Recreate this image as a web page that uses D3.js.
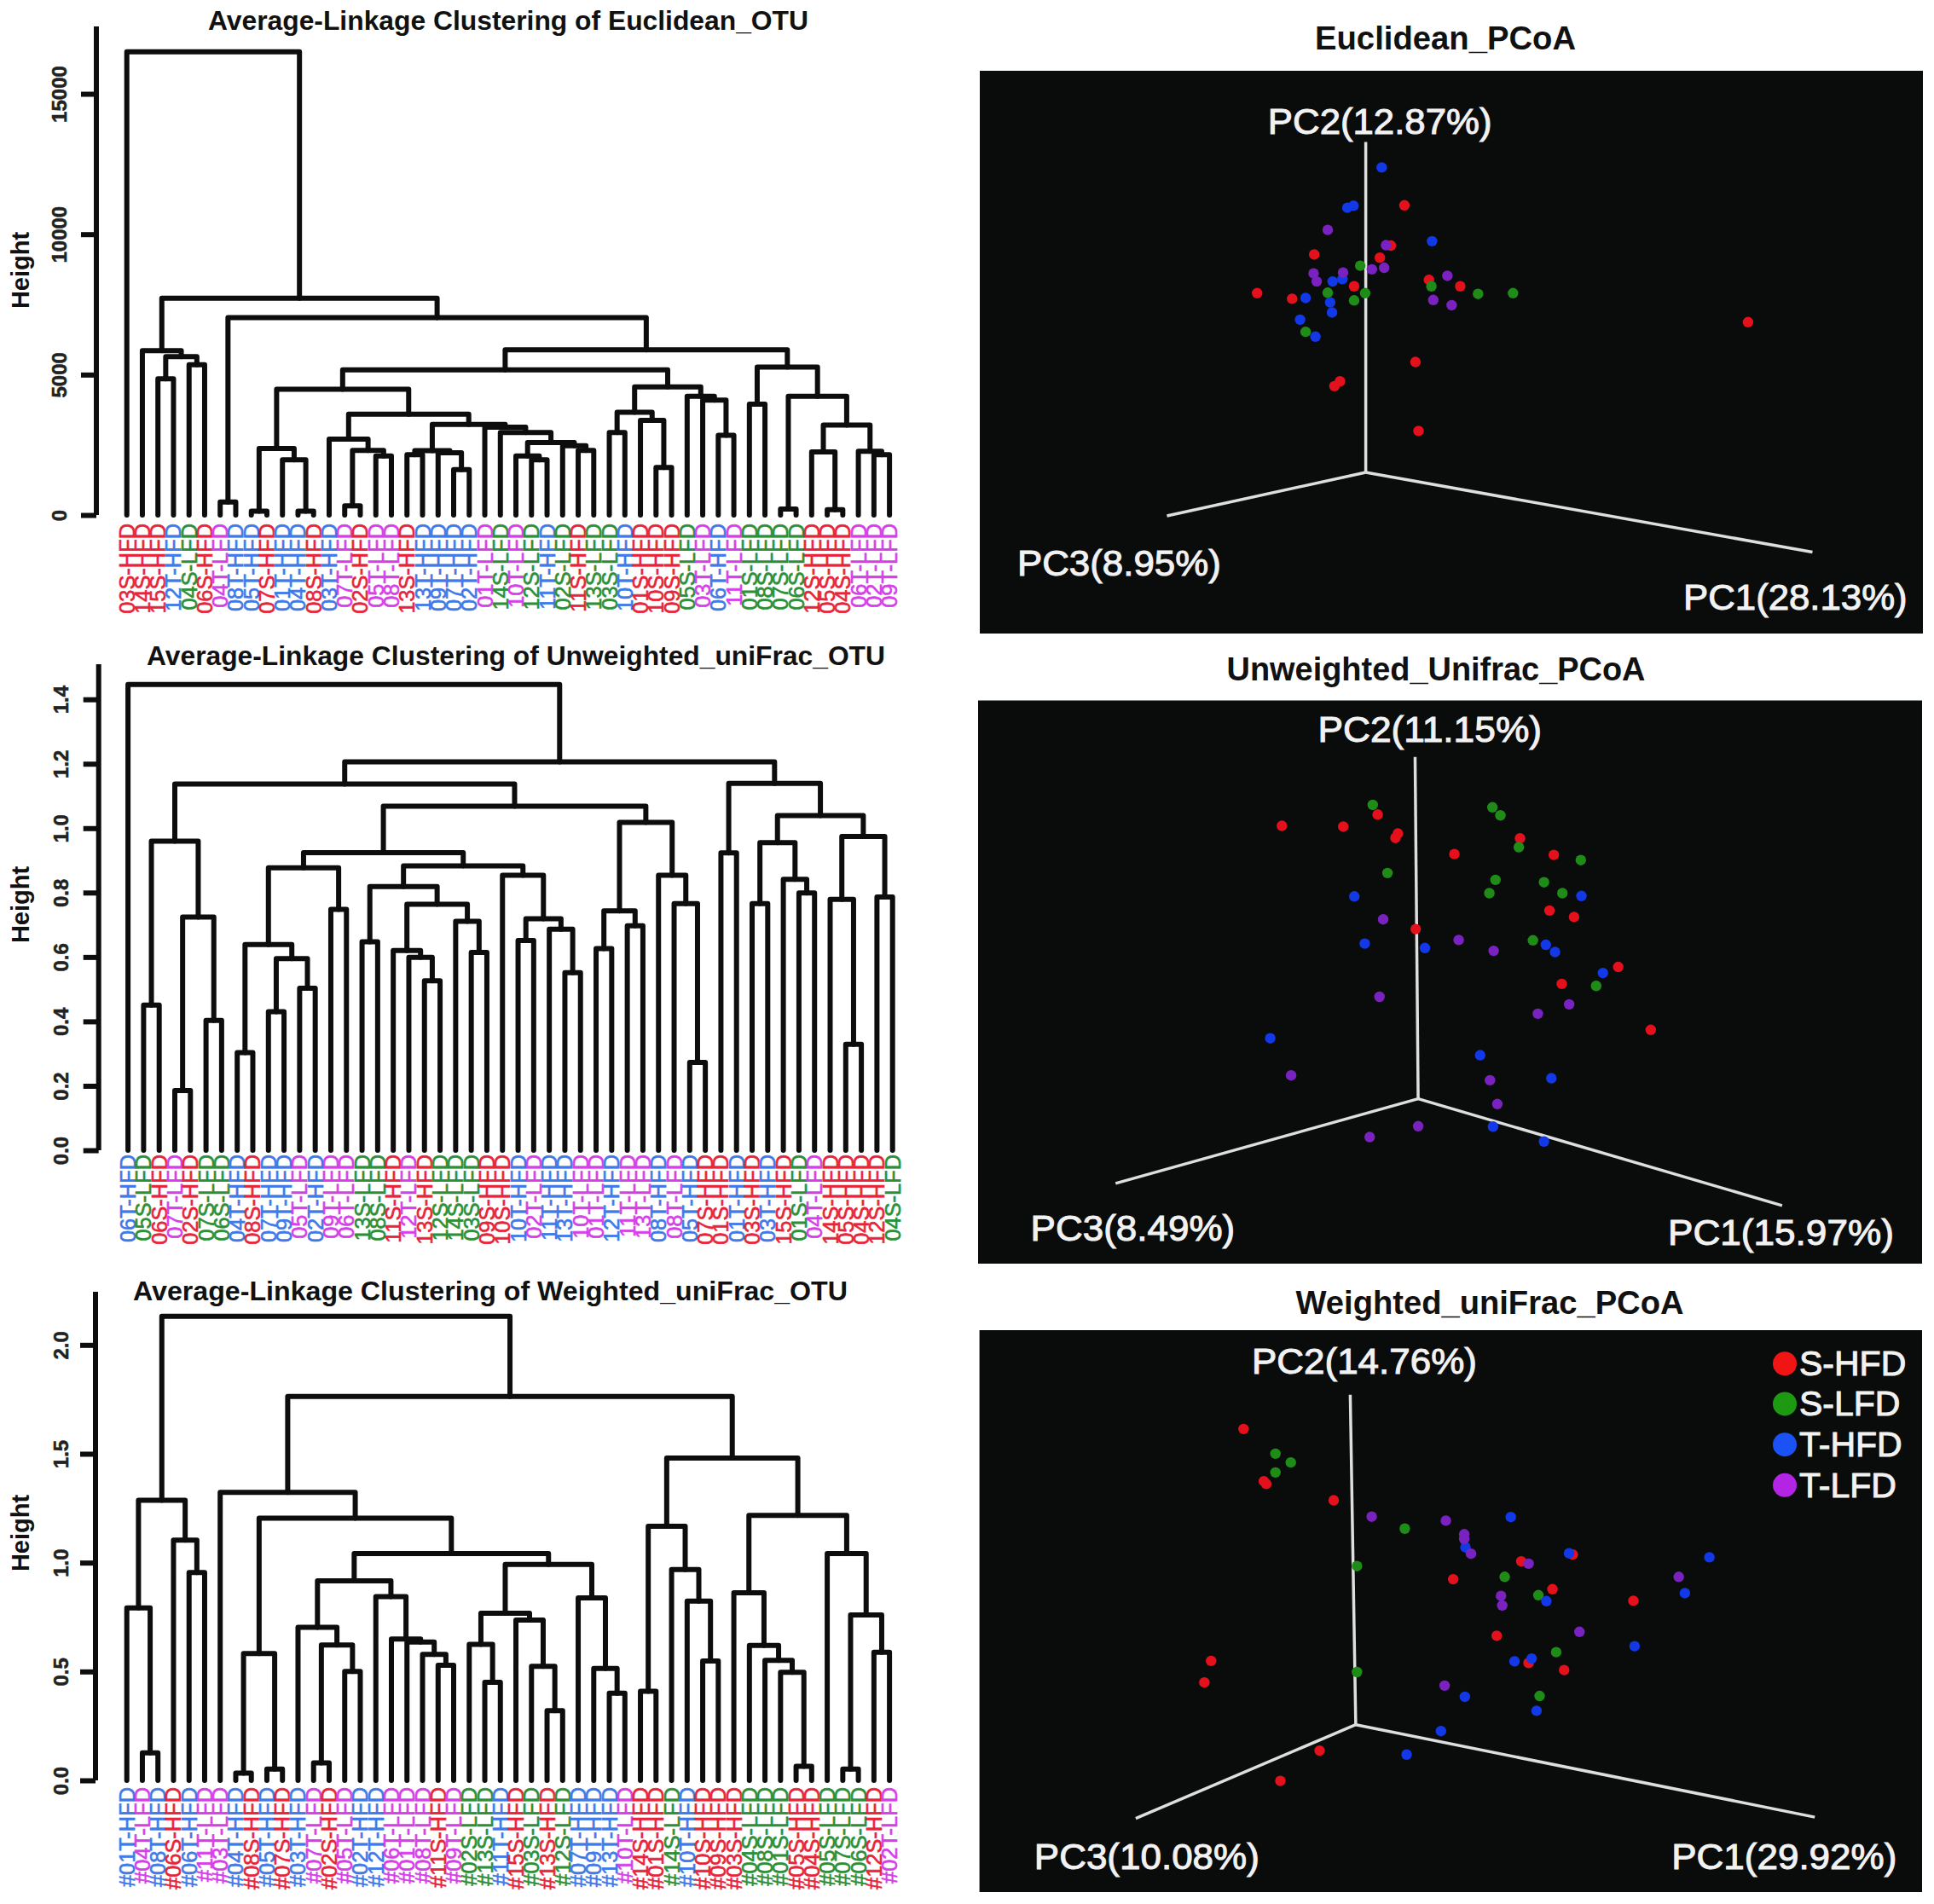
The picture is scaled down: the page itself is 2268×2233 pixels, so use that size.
<!DOCTYPE html>
<html>
<head>
  <meta charset="utf-8">
  <script src="https://d3js.org/d3.v7.min.js"></script>
  <style>
    html, body { margin: 0; padding: 0; background: #fff; }
    svg { display: block; }
    text { font-family: "Liberation Sans", Arial, sans-serif; }
  </style>
</head>
<body>
  <svg id="chart" width="2268" height="2233"></svg>
  <script>
    // sample order along the bottom of each dendrogram
    const euclideanLabels = ('03S-HFD 14S-HFD 15S-HFD 12T-HFD 04S-LFD 06S-HFD 04T-LFD 08T-HFD 05T-HFD 07S-HFD ' +
      '01T-HFD 04T-HFD 08S-HFD 03T-HFD 07T-LFD 02S-HFD 05T-LFD 08T-LFD 13S-HFD 13T-HFD ' +
      '09T-HFD 07T-HFD 02T-HFD 01T-LFD 14S-LFD 10T-LFD 12S-LFD 11T-HFD 02S-LFD 11S-HFD ' +
      '13S-LFD 03S-LFD 10T-HFD 01S-HFD 10S-HFD 09S-HFD 05S-LFD 03T-LFD 06T-HFD 11T-LFD ' +
      '01S-LFD 08S-LFD 07S-LFD 06S-LFD 12S-HFD 05S-HFD 04S-HFD 06T-LFD 02T-LFD 09T-LFD').split(' ')
    const unweightedLabels = ('06T-HFD 05S-LFD 06S-HFD 07T-LFD 02S-HFD 07S-LFD 06S-LFD 04T-HFD 08S-HFD 07T-HFD ' +
      '09T-HFD 05T-LFD 02T-HFD 09T-LFD 06T-LFD 13S-LFD 08S-LFD 11S-HFD 12T-LFD 13S-HFD ' +
      '12S-LFD 14S-LFD 03S-LFD 09S-HFD 10S-HFD 10T-HFD 02T-LFD 11T-HFD 13T-HFD 10T-LFD ' +
      '01T-LFD 12T-HFD 11T-LFD 13T-LFD 08T-HFD 08T-LFD 05T-HFD 07S-HFD 01S-HFD 01T-HFD ' +
      '03S-HFD 03T-HFD 15S-HFD 01S-LFD 04T-LFD 14S-HFD 05S-HFD 04S-HFD 12S-HFD 04S-LFD').split(' ')
    const weightedLabels = ('#01T-HFD #04T-LFD #08T-HFD #06S-HFD #06T-HFD #11T-LFD #03T-LFD #04T-HFD #08S-HFD #05T-HFD ' +
      '#07S-HFD #03T-HFD #07T-LFD #02S-HFD #05T-LFD #02T-HFD #12T-HFD #06T-LFD #01T-LFD #08T-LFD ' +
      '#11S-HFD #09T-LFD #02S-LFD #13S-LFD #11T-HFD #15S-HFD #03S-LFD #13S-HFD #12S-LFD #07T-HFD ' +
      '#09T-HFD #13T-HFD #10T-LFD #14S-HFD #01S-HFD #14S-LFD #10T-HFD #10S-HFD #09S-HFD #03S-HFD ' +
      '#04S-LFD #08S-LFD #01S-LFD #05S-HFD #04S-HFD #05S-LFD #07S-LFD #06S-LFD #12S-HFD #02T-LFD').split(' ')

    // trees: [merge height, left, right], a 0 is a leaf (taken in label order)
    const euclideanTree = [16500, 0, [7720, [5850, 0, [5640, [4850, 0, 0], [5350, 0, 0]]],
      [7030, [460, 0, 0], [5880,
        [5170,
          [4480,
            [2370, [140, 0, 0], [1970, 0, [140, 0, 0]]],
            [3590,
              [2700, 0, [2300, [330, 0, 0], [2100, 0, 0]]],
              [3230,
                [2290, [2150, 0, 0], [2220, 0, [1620, 0, 0]]],
                [3130, 0, [2940, 0, [2580, [2100, 0, [1970, 0, 0]], [2470, 0, [2300, 0, 0]]]]]]]],
          [4560, [3660, [2940, 0, 0], [3370, 0, [1690, 0, 0]]], [4230, 0, [4090, 0, [2840, 0, 0]]]]],
        [5270, [3950, 0, 0], [4230, [215, 0, 0], [3200, [2250, 0, [190, 0, 0]], [2270, 0, [2150, 0, 0]]]]]]]]]
    const unweightedTree = [1.446, 0, [1.206,
      [1.137,
        [0.960, [0.451, 0, 0], [0.724, [0.185, 0, 0], [0.403, 0, 0]]],
        [1.068,
          [0.924,
            [0.877, [0.639, [0.303, 0, 0], [0.595, [0.430, 0, 0], [0.503, 0, 0]]], [0.748, 0, 0]],
            [0.883,
              [0.819, [0.647, 0, 0], [0.764, [0.620, 0, [0.599, 0, [0.526, 0, 0]]], [0.711, 0, [0.614, 0, 0]]]],
              [0.854, 0, [0.719, [0.651, 0, 0], [0.686, 0, [0.551, 0, 0]]]]]],
          [1.018, [0.743, [0.626, 0, 0], [0.697, 0, 0]], [0.854, 0, [0.766, 0, [0.273, 0, 0]]]]]],
      [1.139, [0.923, 0, 0], [1.039,
        [0.955, [0.766, 0, 0], [0.841, 0, [0.799, 0, 0]]],
        [0.974, [0.779, 0, [0.329, 0, 0]], [0.786, 0, 0]]]]]]
    const weightedTree = [2.131,
      [1.286, [0.792, 0, [0.126, 0, 0]], [1.103, 0, [0.955, 0, 0]]],
      [1.763,
        [1.323, 0, [1.204,
          [0.583, [0.033, 0, 0], [0.052, 0, 0]],
          [1.042,
            [0.916,
              [0.703, 0, [0.622, [0.080, 0, 0], [0.500, 0, 0]]],
              [0.844, 0, [0.649, 0, [0.635, 0, [0.579, 0, [0.529, 0, 0]]]]]],
            [0.992,
              [0.768, [0.625, 0, [0.450, 0, 0]], [0.736, 0, [0.524, 0, [0.320, 0, 0]]]],
              [0.838, 0, [0.514, 0, [0.400, 0, 0]]]]]]],
        [1.480,
          [1.167, [0.409, 0, 0], [0.968, 0, [0.823, 0, [0.548, 0, 0]]]],
          [1.217,
            [0.862, 0, [0.620, 0, [0.551, 0, [0.496, 0, [0.065, 0, 0]]]]],
            [1.042, 0, [0.760, [0.052, 0, 0], [0.588, 0, 0]]]]]]]

    const euclideanTicks = [0, 5000, 10000, 15000]
    const unweightedTicks = [0, 0.2, 0.4, 0.6, 0.8, 1.0, 1.2, 1.4]
    const weightedTicks = [0, 0.5, 1.0, 1.5, 2.0]

    // PCoA points as projected on screen [x, y], one list per group
    const euclideanPoints = {
      'S-HFD': [[705,467],[683,567],[665,597],[558,589],[623,668],[465,685],[522,699],[745,652],[796,668],[1265,757],[723,856],[600,904],[591,916],[728,1027]],
      'S-LFD': [[633,617],[580,684],[641,685],[623,703],[749,668],[825,687],[882,685],[544,781]],
      'T-HFD': [[668,373],[612,473],[622,468],[750,556],[588,656],[604,650],[544,697],[584,708],[587,733],[535,751],[560,793]],
      'T-LFD': [[580,528],[675,566],[652,626],[672,622],[557,636],[605,634],[562,656],[775,642],[752,702],[782,715]]
    }
    const unweightedPoints = {
      'S-HFD': [[505,441],[605,443],[661,413],[694,460],[690,471],[786,511],[893,472],[948,513],[941,651],[981,667],[723,697],[1053,791],[961,833],[1106,947]],
      'S-LFD': [[653,389],[848,395],[861,415],[891,494],[992,526],[677,558],[853,575],[932,581],[843,608],[962,608],[914,725],[1017,838]],
      'T-HFD': [[623,616],[993,615],[640,733],[738,744],[935,736],[950,754],[1028,806],[486,968],[828,1010],[944,1067],[849,1187],[932,1224]],
      'T-LFD': [[670,673],[793,724],[850,751],[664,865],[973,884],[922,907],[520,1060],[844,1072],[856,1131],[727,1186],[648,1213]]
    }
    const weightedPoints = {
      'S-HFD': [[443,376],[476,507],[480,514],[590,555],[980,691],[896,708],[785,753],[947,778],[1079,807],[856,895],[908,963],[966,981],[390,958],[379,1012],[567,1183],[503,1259]],
      'S-LFD': [[495,438],[520,460],[495,485],[706,626],[628,720],[869,747],[924,793],[953,936],[628,986],[926,1046]],
      'T-HFD': [[879,597],[805,673],[974,688],[1203,698],[937,808],[1163,788],[1081,921],[913,952],[885,959],[804,1048],[921,1083],[765,1134],[709,1193]],
      'T-LFD': [[652,596],[773,606],[803,640],[803,652],[814,689],[908,714],[1153,747],[863,795],[865,819],[991,885],[771,1020]]
    }
    const groups = ['S-HFD', 'S-LFD', 'T-HFD', 'T-LFD']
    const labelColors = ['#e8243a', '#2c9038', '#3f7ae8', '#d63fe8']
    const pointColors = {
      'S-HFD': '#e4101c', 'S-LFD': '#1f8c18', 'T-HFD': '#1238e8', 'T-LFD': '#7a22c0'
    }
    const legendColors = ['#f01414', '#1d9a12', '#1a52f5', '#b424e4']

    var svg = d3.select('#chart')
    var labelColor = d3.scaleOrdinal().domain(groups).range(labelColors)

    function groupOf(label) {
      var m = label.match(/(S|T)-(HFD|LFD)/)
      return m[0]
    }

    function drawDendrogram(o) {
      var g = svg.append('g')
      var y = d3.scaleLinear().domain([0, o.top]).range([o.y0, o.yTop])
      var x = d3.scalePoint().domain(d3.range(o.labels.length)).range([o.x0, o.x1])

      var root = d3.hierarchy(o.tree, d => Array.isArray(d) ? d.slice(1) : null)
      root.leaves().forEach((n, i) => { n.x = x(i) })
      root.eachAfter(n => { if (n.children) n.x = (n.children[0].x + n.children[1].x) / 2 })
      var h = n => n.children ? n.data[0] : 0

      g.selectAll('path.link')
        .data(root.descendants().filter(n => n.children))
        .enter().append('path')
        .attr('class', 'link')
        .attr('fill', 'none')
        .attr('stroke', '#0d0d0d')
        .attr('stroke-width', 6)
        .attr('stroke-linejoin', 'round')
        .attr('stroke-linecap', 'round')
        .attr('d', n => {
          var a = n.children[0], b = n.children[1]
          return 'M' + a.x + ',' + y(h(a)) + 'V' + y(h(n)) + 'H' + b.x + 'V' + y(h(b))
        })

      // height axis
      var axis = g.append('g')
        .attr('transform', 'translate(' + o.axisX + ',0)')
        .call(d3.axisLeft(y).tickValues(o.ticks).tickSize(18).tickFormat(o.format))
      axis.selectAll('.domain, .tick line').attr('stroke', '#0d0d0d').attr('stroke-width', 6)
      axis.selectAll('.domain').attr('d', 'M0,' + o.y0 + 'V' + o.yTop)
      axis.selectAll('.tick text')
        .attr('transform', 'rotate(-90)')
        .attr('x', 0)
        .attr('dy', 0)
        .attr('y', o.tickLabelX - o.axisX + 8)
        .attr('text-anchor', 'middle')
        .attr('font-size', 24)
        .attr('font-weight', 'bold')
        .attr('font-family', '"Liberation Sans"')
        .attr('fill', '#222')
        .attr('stroke', '#222')
        .attr('stroke-width', 0.5)

      g.append('text')
        .attr('transform', 'translate(34,' + o.heightY + ') rotate(-90)')
        .attr('text-anchor', 'middle')
        .attr('font-size', 29)
        .attr('font-weight', 'bold')
        .attr('fill', '#111')
        .text('Height')

      g.append('text')
        .attr('x', o.titleX)
        .attr('y', o.titleY + 11)
        .attr('text-anchor', 'middle')
        .attr('font-size', 31)
        .attr('font-weight', 'bold')
        .attr('fill', '#111')
        .attr('textLength', o.titleW)
        .attr('lengthAdjust', 'spacingAndGlyphs')
        .text(o.title)

      // sample labels, reading upward with the end next to the leaf
      g.selectAll('text.leaf')
        .data(o.labels)
        .enter().append('text')
        .attr('class', 'leaf')
        .attr('transform', (d, i) => 'translate(' + (x(i) + 9) + ',' + o.labelTop + ') rotate(-90)')
        .attr('text-anchor', 'end')
        .attr('font-size', 25.4)
        .attr('fill', d => labelColor(groupOf(d)))
        .attr('stroke', d => labelColor(groupOf(d)))
        .attr('stroke-width', 0.6)
        .text(d => d)
    }

    function drawPcoa(o) {
      var g = svg.append('g')
      g.append('rect')
        .attr('x', o.box[0]).attr('y', o.box[1])
        .attr('width', o.box[2] - o.box[0]).attr('height', o.box[3] - o.box[1])
        .attr('fill', '#0a0c0c')

      // the points were read in a frame that covers the black box
      var x = d3.scaleLinear().domain(o.frameX).range([o.box[0], o.box[2]])
      var y = d3.scaleLinear().domain(o.frameY).range([o.box[1], o.box[3]])

      g.selectAll('line.pc')
        .data(o.axes)
        .enter().append('line')
        .attr('class', 'pc')
        .attr('x1', x(o.origin[0])).attr('y1', y(o.origin[1]))
        .attr('x2', d => x(d[0])).attr('y2', d => y(d[1]))
        .attr('stroke', '#dedede')
        .attr('stroke-width', 3.5)

      groups.forEach(k => {
        g.selectAll('circle.p' + k)
          .data(o.points[k])
          .enter().append('circle')
          .attr('cx', d => x(d[0]))
          .attr('cy', d => y(d[1]))
          .attr('r', 6.2)
          .attr('fill', pointColors[k])
      })

      g.selectAll('text.pc')
        .data(o.pcLabels)
        .enter().append('text')
        .attr('class', 'pc')
        .attr('x', d => x(d[1]))
        .attr('y', d => y(d[2]) + 13)
        .attr('text-anchor', 'middle')
        .attr('font-size', 42)
        .attr('fill', '#f2f2f2')
        .attr('stroke', '#f2f2f2')
        .attr('stroke-width', 1)
        .attr('textLength', d => d[3] / 1.39)
        .attr('lengthAdjust', 'spacingAndGlyphs')
        .text(d => d[0])

      g.append('text')
        .attr('x', o.titleX)
        .attr('y', o.titleY + 13)
        .attr('text-anchor', 'middle')
        .attr('font-size', 38)
        .attr('font-weight', 'bold')
        .attr('fill', '#111')
        .attr('textLength', o.titleW)
        .attr('lengthAdjust', 'spacingAndGlyphs')
        .text(o.title)

      if (o.legend) {
        groups.forEach((k, i) => {
          g.append('circle')
            .attr('cx', x(o.legend.x)).attr('cy', y(o.legend.ys[i]))
            .attr('r', 14)
            .attr('fill', legendColors[i])
          g.append('text')
            .attr('x', x(o.legend.x) + 17).attr('y', y(o.legend.ys[i]) + 14)
            .attr('font-size', 41)
            .attr('fill', '#f2f2f2')
            .attr('stroke', '#f2f2f2')
            .attr('stroke-width', 1)
            .text(k)
        })
      }
    }

    drawDendrogram({
      tree: euclideanTree, labels: euclideanLabels, ticks: euclideanTicks, format: d3.format('d'),
      top: 17400, y0: 604, yTop: 31, x0: 148.7, x1: 1043.1, axisX: 113, tickLabelX: 70,
      labelTop: 614, heightY: 317,
      title: 'Average-Linkage Clustering of Euclidean_OTU', titleX: 596, titleY: 24, titleW: 704
    })
    drawDendrogram({
      tree: unweightedTree, labels: unweightedLabels, ticks: unweightedTicks, format: d3.format('.1f'),
      top: 1.509, y0: 1349, yTop: 779, x0: 150.1, x1: 1046.7, axisX: 115.7, tickLabelX: 72,
      labelTop: 1354, heightY: 1061,
      title: 'Average-Linkage Clustering of Unweighted_uniFrac_OTU', titleX: 605, titleY: 769, titleW: 866
    })
    drawDendrogram({
      tree: weightedTree, labels: weightedLabels, ticks: weightedTicks, format: d3.format('.1f'),
      top: 2.244, y0: 2088, yTop: 1515, x0: 148.7, x1: 1043.1, axisX: 112, tickLabelX: 72,
      labelTop: 2096, heightY: 1798,
      title: 'Average-Linkage Clustering of Weighted_uniFrac_OTU', titleX: 575, titleY: 1514, titleW: 838
    })

    drawPcoa({
      box: [1149, 83, 2255, 743], frameX: [13, 1550], frameY: [133, 1530],
      origin: [642, 1130], axes: [[642, 310], [318, 1238], [1370, 1328]],
      points: euclideanPoints,
      pcLabels: [['PC2(12.87%)', 665, 262, 365], ['PC3(8.95%)', 240, 1358, 332], ['PC1(28.13%)', 1342, 1443, 365]],
      title: 'Euclidean_PCoA', titleX: 1695, titleY: 44.6, titleW: 306
    })
    drawPcoa({
      box: [1147, 821.5, 2254, 1482], frameX: [10, 1548], frameY: [130, 1527],
      origin: [727, 1118], axes: [[722, 270], [234, 1328], [1320, 1383]],
      points: unweightedPoints,
      pcLabels: [['PC2(11.15%)', 746, 205, 365], ['PC3(8.49%)', 262, 1443, 333], ['PC1(15.97%)', 1318, 1453, 368]],
      title: 'Unweighted_Unifrac_PCoA', titleX: 1684, titleY: 784.6, titleW: 491
    })
    drawPcoa({
      box: [1148.6, 1560, 2254, 2219], frameX: [12, 1550], frameY: [128, 1538],
      origin: [626, 1118], axes: [[617, 290], [267, 1353], [1375, 1350]],
      points: weightedPoints,
      pcLabels: [['PC2(14.76%)', 640, 210, 367], ['PC3(10.08%)', 285, 1453, 367], ['PC1(29.92%)', 1325, 1453, 367]],
      legend: { x: 1326, ys: [212, 313, 415, 517] },
      title: 'Weighted_uniFrac_PCoA', titleX: 1747, titleY: 1528, titleW: 455
    })
  </script>
</body>
</html>
